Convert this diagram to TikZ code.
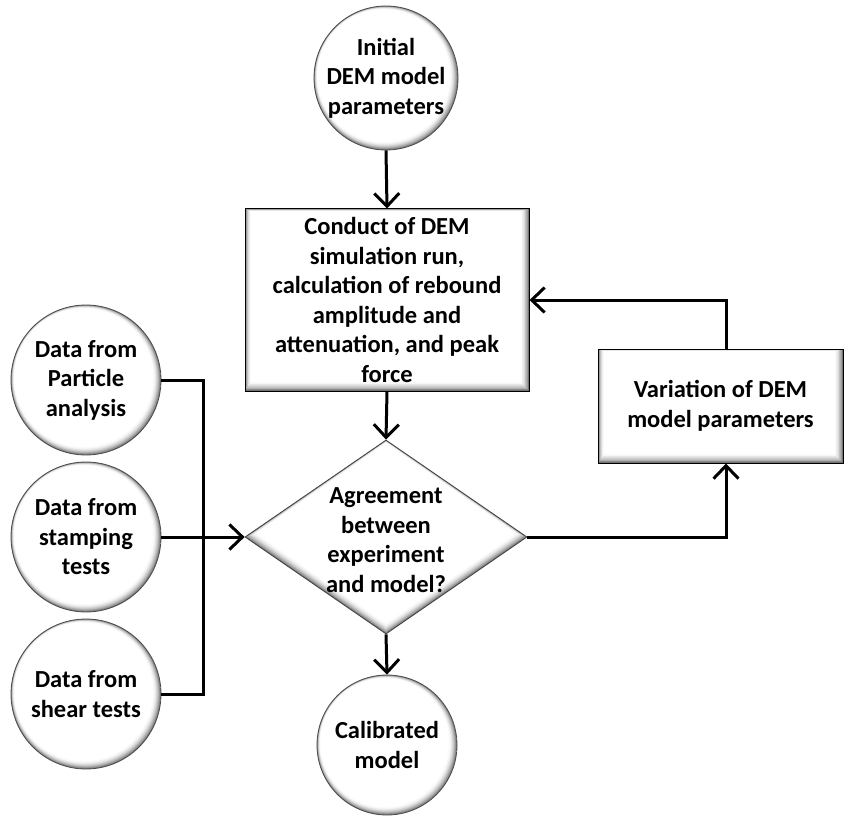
\documentclass[tikz,border=0pt]{standalone}
\usepackage{fontspec}
\setmainfont{Carlito}
\usetikzlibrary{arrows.meta,shapes.geometric}
\newcommand\lblfont{\fontsize{24.5pt}{29.5pt}\selectfont\bfseries}
\begin{document}
\begin{tikzpicture}[x=1pt,y=-1pt,
  lbl/.style={font=\lblfont, align=center, text=black},
  ball/.style={circle, lbl, draw=black!70, line width=0.8pt, minimum size=#1*1pt, inner sep=0pt,
    path picture={\foreach \i in {0,...,14}{
        \pgfmathsetmacro\myt{\i/14}
        \pgfmathsetmacro\myg{55*(1-\myt)^2}
        \pgfmathsetmacro\myr{#1/2-6*\myt}
        \pgfmathsetmacro\mys{2.5*\myt}
        \fill[black!\myg] ([shift={(-\mys*1pt,\mys*1pt)}]path picture bounding box.center) circle[radius=\myr*1pt];
      }}},
  bevelbox/.style={rectangle, lbl, draw=black, line width=1pt, inner sep=0pt,
    path picture={\foreach \i in {0,...,12}{
        \pgfmathsetmacro\myt{\i/12}
        \pgfmathsetmacro\myg{55*(1-\myt)^2}
        \pgfmathsetmacro\myl{6*\myt}
        \pgfmathsetmacro\myb{10*\myt}
        \pgfmathsetmacro\myrr{9*\myt}
        \pgfmathsetmacro\mytp{2.5*\myt}
        \fill[black!\myg] ([shift={(\myl*1pt,\myb*1pt)}]path picture bounding box.south west) rectangle ([shift={(-\myrr*1pt,-\mytp*1pt)}]path picture bounding box.north east);
      }}},
  bevdia/.style={diamond, draw=black!75, line width=0.8pt, inner sep=0pt, minimum width=282pt, minimum height=194pt,
    path picture={\foreach \i in {0,...,12}{
        \pgfmathsetmacro\myt{\i/12}
        \pgfmathsetmacro\myg{55*(1-\myt)^2}
        \pgfmathsetmacro\myhw{141-12*\myt}
        \pgfmathsetmacro\myhh{97-7*\myt}
        \pgfmathsetmacro\mydy{4*\myt}
        \fill[black!\myg] ([shift={(\myhw*1pt,\mydy*1pt)}]path picture bounding box.center)
          -- ([shift={(0pt,\mydy*1pt+\myhh*1pt)}]path picture bounding box.center)
          -- ([shift={(-\myhw*1pt,\mydy*1pt)}]path picture bounding box.center)
          -- ([shift={(0pt,\mydy*1pt-\myhh*1pt)}]path picture bounding box.center) -- cycle;
      }}},
  conn/.style={line width=3pt, draw=black},
  arr/.style={conn, -{Straight Barb[length=13pt, width=25pt]}}
]
\useasboundingbox[fill=white] (0,0) rectangle (845,818);

\node[ball=144] (init) at (386,78) {Initial\\DEM model\\parameters};
\node[bevelbox, minimum width=284pt, minimum height=182pt] (run) at (387,300)
  {Conduct of DEM\\simulation run,\\calculation of rebound\\amplitude and\\attenuation, and peak\\force};
\node[bevdia] (dec) at (386,537) {};
\node[lbl] (dectext) at (386,540) {Agreement\\between\\experiment\\and model?};
\node[ball=140] (cal) at (387,745) {Calibrated\\model};
\node[bevelbox, minimum width=245pt, minimum height=114pt] (var) at (720.5,406)
  {Variation of DEM\\model parameters};

\node[ball=150] (p1) at (86,380) {Data from\\Particle\\analysis};
\node[ball=150] (p2) at (86,537) {Data from\\stamping\\tests};
\node[ball=150] (p3) at (86,694) {Data from\\shear tests};
\coordinate (bus) at (203,537);

\draw[arr] (init.south) -- (run.north);
\draw[arr] (run.south) -- (dec.north);
\draw[arr] (dec.south) -- (cal.north);
\draw[conn] (p1.east) -| (bus) |- (p3.east);
\draw[arr] (p2.east) -- (dec.west);
\draw[arr] (dec.east) -| ([xshift=5.5pt]var.south);
\draw[arr] ([xshift=5.5pt]var.north) |- (run.east);
\end{tikzpicture}
\end{document}
